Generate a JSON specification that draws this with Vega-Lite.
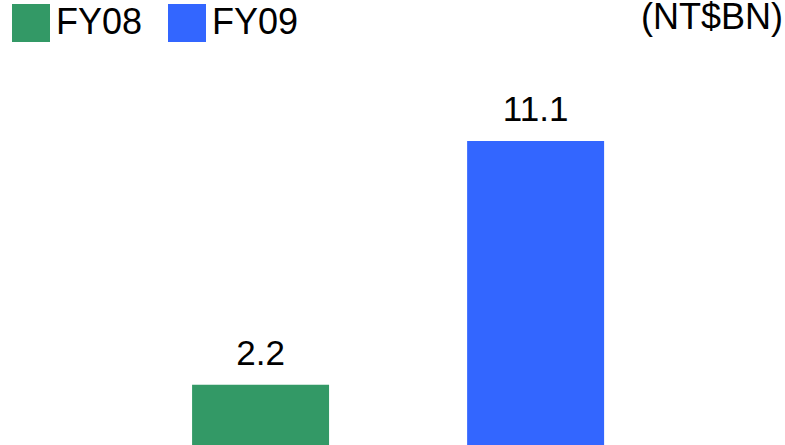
{
  "$schema": "https://vega.github.io/schema/vega-lite/v6.json",
  "width": 785,
  "height": 445,
  "autosize": {"type": "fit", "contains": "padding"},
  "padding": 0,
  "background": "white",
  "title": {"text": "(NT$BN)", "anchor": "end", "fontSize": 36, "font": "Liberation Sans", "fontWeight": "normal", "color": "black", "offset": 0, "dy": 10, "dx": -2},
  "config": {"view": {"stroke": null}, "font": "Liberation Sans"},
  "data": {"values": [
    {"year": "FY08", "value": 2.2},
    {"year": "FY09", "value": 11.1}
  ]},
  "encoding": {
    "x": {"field": "year", "type": "nominal", "axis": null,
      "scale": {"domain": ["FY08", "FY09"], "paddingInner": 0.502, "paddingOuter": 0.678, "align": 0.515}},
    "y": {"field": "value", "type": "quantitative", "axis": null, "scale": {"domain": [0, 15.26], "nice": false}}
  },
  "layer": [
    {"mark": {"type": "bar"},
     "encoding": {"color": {"field": "year", "type": "nominal",
       "scale": {"domain": ["FY08", "FY09"], "range": ["#339966", "#3366FF"]},
       "legend": {"orient": "none", "legendX": 12, "legendY": -23, "direction": "horizontal", "title": null,
         "symbolType": "square", "symbolSize": 1444, "symbolStrokeWidth": 0, "symbolOpacity": 1,
         "labelFontSize": 36, "labelFont": "Liberation Sans", "labelColor": "black", "labelOffset": 6, "columnPadding": 25, "padding": 0}}}},
    {"mark": {"type": "text", "baseline": "alphabetic", "dy": -20, "fontSize": 35, "font": "Liberation Sans", "color": "black"},
     "encoding": {"text": {"field": "value", "type": "quantitative", "format": ".1f"}}}
  ]
}
